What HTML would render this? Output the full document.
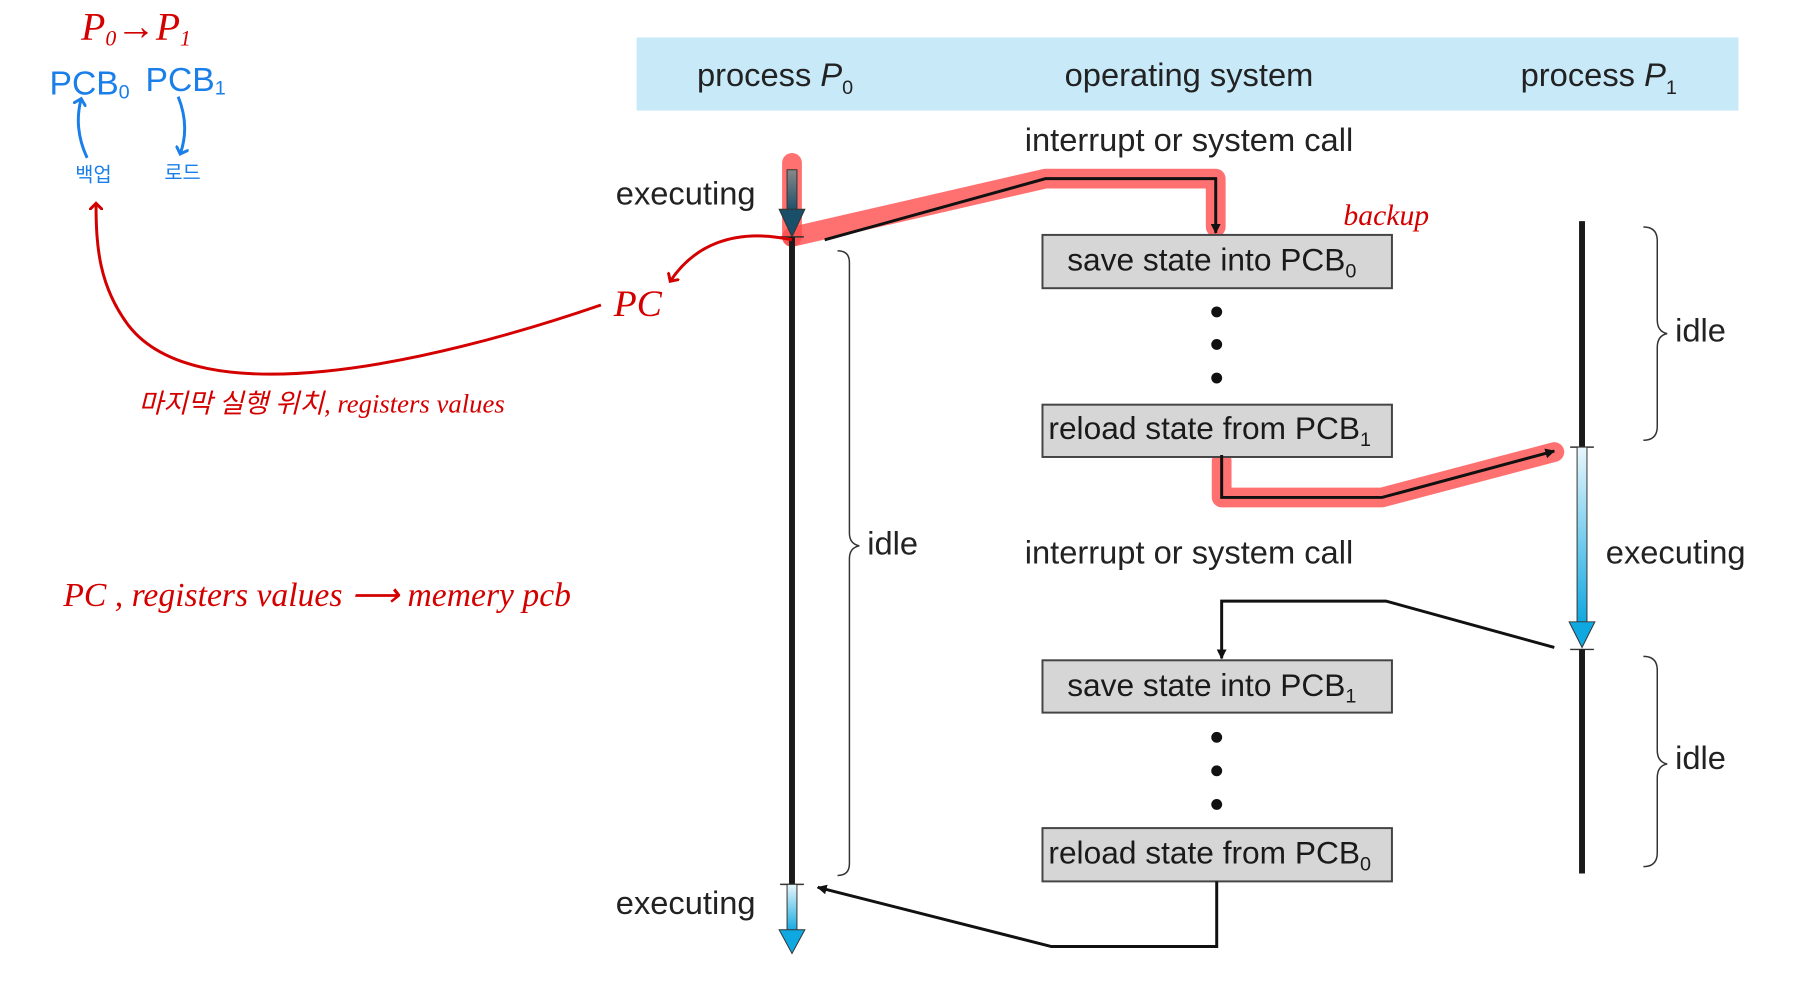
<!DOCTYPE html>
<html><head><meta charset="utf-8"><style>
html,body{margin:0;padding:0;background:#fff;}
svg{display:block;}
text{font-family:"Liberation Sans","Noto Sans CJK KR",sans-serif;}
.h{font-size:33px;fill:#222;}
.b{font-size:32px;fill:#1a1a1a;}
.hw{font-family:"Liberation Serif","Noto Sans CJK KR",serif;font-style:italic;fill:#d40000;}
</style></head><body>
<svg width="1809" height="1000" viewBox="0 0 1809 1000" xmlns="http://www.w3.org/2000/svg">
<defs>
<marker id="ah" markerWidth="10" markerHeight="10" refX="9" refY="5" orient="auto" markerUnits="userSpaceOnUse"><path d="M0,0 L10,5 L0,10 Z" fill="#111"/></marker>
<marker id="ahr" markerWidth="14" markerHeight="14" refX="7" refY="7" orient="auto" markerUnits="userSpaceOnUse"><path d="M0,0 L7,7 L0,14" fill="none" stroke="#d40000" stroke-width="3"/></marker>
<marker id="ahb" markerWidth="14" markerHeight="14" refX="7" refY="7" orient="auto" markerUnits="userSpaceOnUse"><path d="M0,0 L7,7 L0,14" fill="none" stroke="#1a7fe8" stroke-width="3"/></marker>
<linearGradient id="gb" x1="0" y1="0" x2="0" y2="1"><stop offset="0" stop-color="#e8f6fc"/><stop offset="1" stop-color="#10a8e0"/></linearGradient>
<linearGradient id="gd" x1="0" y1="0" x2="0" y2="1"><stop offset="0" stop-color="#888"/><stop offset="1" stop-color="#1a4f6a"/></linearGradient>
</defs>
<g transform="scale(0.99,0.987)">
<rect x="643" y="38" width="1113" height="74" fill="#c7e9f8"/>
<text class="h" x="704" y="87">process <tspan font-style="italic">P</tspan><tspan font-size="20" dy="8">0</tspan></text>
<text class="h" x="1201" y="87" text-anchor="middle">operating system</text>
<text class="h" x="1536" y="87">process <tspan font-style="italic">P</tspan><tspan font-size="20" dy="8">1</tspan></text>
<text class="h" x="1201" y="153" text-anchor="middle">interrupt or system call</text>
<text class="h" x="1201" y="571" text-anchor="middle">interrupt or system call</text>
<text class="h" x="622" y="207">executing</text>
<text class="h" x="622" y="926">executing</text>
<text class="h" x="1622" y="571">executing</text>
<text class="h" x="876" y="562">idle</text>
<text class="h" x="1692" y="346">idle</text>
<text class="h" x="1692" y="779">idle</text>
<g stroke="#ff4d4d" stroke-opacity="0.8" stroke-width="20" fill="none" stroke-linecap="round" stroke-linejoin="round">
<path d="M800,165 L800,240"/>
<path d="M800,240 L1056,181 L1228,181 L1228,230"/>
<path d="M1234,467 L1234,504 L1396,504 L1570,458"/>
</g>
<ellipse cx="1346" cy="263" rx="40" ry="13" fill="#d6dc3a" opacity="0.8"/>
<ellipse cx="1356" cy="434" rx="40" ry="13" fill="#d6dc3a" opacity="0.8"/>
<rect x="795" y="172" width="10" height="42" fill="url(#gd)" stroke="#333" stroke-width="1"/>
<path d="M787,212 L813,212 L800,240 Z" fill="#1a4f6a" stroke="#333"/>
<line x1="788" y1="240" x2="812" y2="240" stroke="#333" stroke-width="1.5"/>
<line x1="800" y1="240" x2="800" y2="896" stroke="#1a1a1a" stroke-width="6"/>
<line x1="788" y1="896" x2="812" y2="896" stroke="#333" stroke-width="1.5"/>
<rect x="795" y="896" width="10" height="48" fill="url(#gb)" stroke="#333" stroke-width="1"/>
<path d="M787,942 L813,942 L800,966 Z" fill="#10a8e0" stroke="#333"/>
<path d="M846,254 Q858,254 858,266 L858,540 Q858,551 868,553 Q858,555 858,566 L858,875 Q858,887 846,887" fill="none" stroke="#333" stroke-width="1.5"/>
<line x1="1598" y1="224" x2="1598" y2="453" stroke="#1a1a1a" stroke-width="6"/>
<line x1="1586" y1="453" x2="1610" y2="453" stroke="#333" stroke-width="1.5"/>
<rect x="1593" y="453" width="10" height="178" fill="url(#gb)" stroke="#333" stroke-width="1"/>
<path d="M1585,630 L1611,630 L1598,656 Z" fill="#10a8e0" stroke="#333"/>
<line x1="1586" y1="658" x2="1610" y2="658" stroke="#333" stroke-width="1.5"/>
<line x1="1598" y1="658" x2="1598" y2="885" stroke="#1a1a1a" stroke-width="6"/>
<path d="M1660,230 Q1674,230 1674,244 L1674,324 Q1674,336 1684,338 Q1674,340 1674,352 L1674,432 Q1674,446 1660,446" fill="none" stroke="#333" stroke-width="1.5"/>
<path d="M1660,665 Q1674,665 1674,679 L1674,760 Q1674,772 1684,774 Q1674,776 1674,788 L1674,864 Q1674,878 1660,878" fill="none" stroke="#333" stroke-width="1.5"/>
<g fill="#d6d6d6" stroke="#444" stroke-width="2">
<rect x="1053" y="238" width="353" height="54"/>
<rect x="1053" y="410" width="353" height="53"/>
<rect x="1053" y="669" width="353" height="53"/>
<rect x="1053" y="839" width="353" height="54"/>
</g>
<text class="b" x="1078" y="274">save state into PCB<tspan font-size="20" dy="7">0</tspan></text>
<text class="b" x="1059" y="445">reload state from PCB<tspan font-size="20" dy="7">1</tspan></text>
<text class="b" x="1078" y="705">save state into PCB<tspan font-size="20" dy="7">1</tspan></text>
<text class="b" x="1059" y="875">reload state from PCB<tspan font-size="20" dy="7">0</tspan></text>
<g fill="#111">
<circle cx="1229" cy="316" r="5.5"/><circle cx="1229" cy="349" r="5.5"/><circle cx="1229" cy="383" r="5.5"/>
<circle cx="1229" cy="747" r="5.5"/><circle cx="1229" cy="781" r="5.5"/><circle cx="1229" cy="815" r="5.5"/>
</g>
<g fill="none" stroke="#111" stroke-width="3">
<path d="M833,243 L1056,181 L1228,181 L1228,236" marker-end="url(#ah)"/>
<path d="M1234,461 L1234,504 L1396,504 L1570,457" marker-end="url(#ah)"/>
<path d="M1570,656 L1400,609 L1234,609 L1234,667" marker-end="url(#ah)"/>
<path d="M1229,893 L1229,959 L1062,959 L826,899" marker-end="url(#ah)"/>
</g>
<text class="hw" x="82" y="40" font-size="40">P<tspan font-size="22" dy="6">0</tspan><tspan dy="-6">→P</tspan><tspan font-size="22" dy="6">1</tspan></text>
<text x="50" y="96" font-size="34" fill="#1a7fe8" font-family="Liberation Sans Narrow,Liberation Sans,sans-serif">PCB<tspan font-size="20" dy="4">0</tspan></text>
<text x="147" y="92" font-size="34" fill="#1a7fe8" font-family="Liberation Sans Narrow,Liberation Sans,sans-serif">PCB<tspan font-size="20" dy="4">1</tspan></text>
<path d="M88,160 Q74,130 82,100" fill="none" stroke="#1a7fe8" stroke-width="3" marker-end="url(#ahb)"/>
<path d="M180,98 Q192,128 182,156" fill="none" stroke="#1a7fe8" stroke-width="3" marker-end="url(#ahb)"/>
<text x="76" y="184" font-size="20" fill="#1a7fe8" font-family="Noto Sans CJK KR,sans-serif">백업</text>
<text x="166" y="182" font-size="20" fill="#1a7fe8" font-family="Noto Sans CJK KR,sans-serif">로드</text>
<path d="M607,309 C430,370 200,420 130,330 C100,290 97,250 97,206" fill="none" stroke="#d40000" stroke-width="3" marker-end="url(#ahr)"/>
<path d="M800,243 C740,230 700,250 677,285" fill="none" stroke="#d40000" stroke-width="3" marker-end="url(#ahr)"/>
<text class="hw" x="620" y="320" font-size="38">PC</text>
<text class="hw" x="140" y="418" font-size="27">마지막 실행 위치, registers values</text>
<text class="hw" x="64" y="614" font-size="34">PC , registers values ⟶ memery pcb</text>
<text class="hw" x="1357" y="228" font-size="30">backup</text>
</g>
</svg>
</body></html>
